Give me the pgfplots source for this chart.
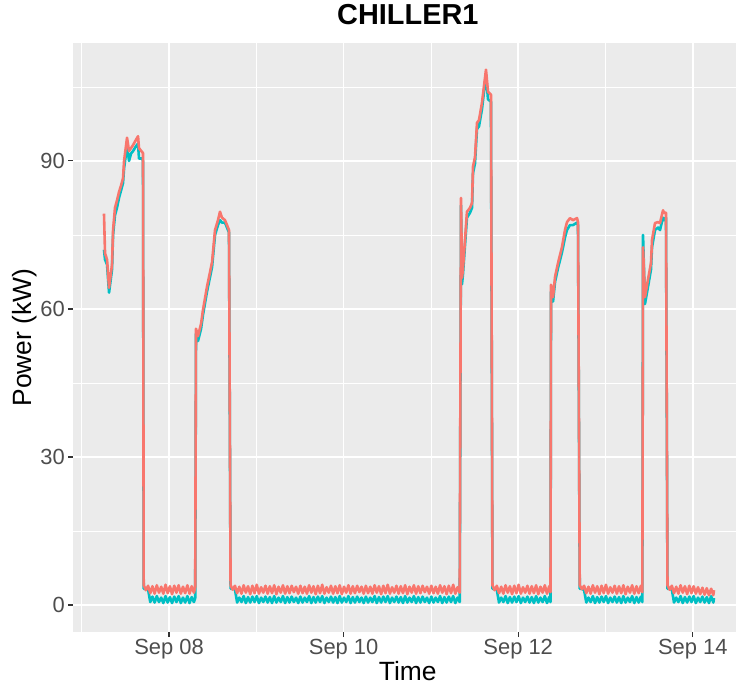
\documentclass[border=0pt]{standalone}
\usepackage{fontspec}
\setmainfont{Liberation Sans}
\usepackage{pgfplots}
\usepackage{pgfplotstable}
\pgfplotsset{compat=1.18}

\definecolor{ggred}{HTML}{F8766D}
\definecolor{ggteal}{HTML}{00BFC4}
\definecolor{panelgrey}{HTML}{EBEBEB}
\definecolor{labelgrey}{HTML}{4D4D4D}
\definecolor{tickdark}{HTML}{333333}

% day of September, power of the two chiller readings (kW)
\pgfplotstableread[row sep=\\]{
d red teal \\
7.255 79.3 72.0 \\ 7.267 71.3 70.0 \\ 7.290 70.0 69.0 \\ 7.313 64.3 63.3 \\ 7.347 69.0 68.0 \\
7.359 76.0 75.0 \\ 7.381 80.5 79.0 \\ 7.404 82.0 80.5 \\ 7.427 83.7 82.5 \\ 7.450 85.0 84.0 \\
7.473 86.5 85.5 \\ 7.485 90.0 88.5 \\ 7.519 94.7 93.0 \\ 7.542 92.0 90.0 \\ 7.565 92.6 91.5 \\
7.588 93.2 92.0 \\ 7.622 94.3 93.0 \\ 7.645 95.0 93.5 \\ 7.656 92.6 90.5 \\ 7.691 91.8 90.5 \\
7.702 91.6 90.0 \\
7.710 4.0 3.3 \\ 7.735 3.0 3.3 \\ 7.760 3.9 3.2 \\ 7.785 2.4 0.6 \\ 7.810 3.8 1.7 \\
7.835 2.3 0.5 \\ 7.860 4.0 1.8 \\ 7.885 2.5 0.6 \\ 7.910 3.7 1.5 \\ 7.935 2.3 0.4 \\
7.960 4.1 1.8 \\ 7.985 2.4 0.5 \\ 8.010 3.8 1.6 \\ 8.035 2.2 0.4 \\ 8.060 3.9 1.7 \\
8.085 2.5 0.6 \\ 8.110 4.0 1.8 \\ 8.135 2.3 0.4 \\ 8.160 3.7 1.5 \\ 8.185 2.4 0.5 \\
8.210 4.0 1.8 \\ 8.235 2.3 0.4 \\ 8.260 3.8 1.6 \\ 8.285 2.5 0.6 \\ 8.300 3.6 1.4 \\
8.309 56.0 55.0 \\ 8.332 54.5 53.5 \\ 8.367 57.0 56.0 \\ 8.389 59.8 58.8 \\ 8.435 64.5 63.5 \\
8.470 67.5 66.5 \\ 8.493 69.5 68.5 \\ 8.527 76.0 75.0 \\ 8.561 78.0 77.0 \\ 8.584 79.7 78.0 \\
8.607 78.5 77.5 \\ 8.641 78.0 77.5 \\ 8.664 77.0 76.5 \\ 8.687 76.0 75.5 \\
8.705 4.0 3.3 \\ 8.730 3.1 3.3 \\ 8.755 3.9 3.2 \\ 8.780 2.4 0.5 \\ 8.805 3.7 1.5 \\
8.830 2.3 0.6 \\ 8.855 4.0 1.8 \\ 8.880 2.5 0.4 \\ 8.905 3.8 1.6 \\ 8.930 2.2 0.5 \\
8.955 3.9 1.7 \\ 8.980 2.4 0.6 \\ 9.005 4.1 1.8 \\ 9.030 2.3 0.4 \\ 9.055 3.6 1.5 \\
9.080 2.5 0.6 \\ 9.105 3.9 1.7 \\ 9.130 2.3 0.5 \\ 9.155 3.8 1.6 \\ 9.180 2.4 0.4 \\
9.205 4.0 1.8 \\ 9.230 2.2 0.5 \\ 9.255 3.7 1.5 \\ 9.280 2.5 0.6 \\ 9.305 4.0 1.8 \\
9.330 2.3 0.4 \\ 9.355 3.8 1.6 \\ 9.380 2.4 0.5 \\ 9.405 3.9 1.7 \\ 9.430 2.6 0.6 \\
9.455 3.7 1.5 \\ 9.480 2.3 0.4 \\ 9.505 3.9 1.7 \\ 9.530 2.4 0.5 \\ 9.555 3.7 1.5 \\
9.580 2.3 0.6 \\ 9.605 4.0 1.8 \\ 9.630 2.5 0.4 \\ 9.655 3.8 1.6 \\ 9.680 2.2 0.5 \\
9.705 3.9 1.7 \\ 9.730 2.4 0.6 \\ 9.755 4.1 1.8 \\ 9.780 2.3 0.4 \\ 9.805 3.6 1.5 \\
9.830 2.5 0.6 \\ 9.855 3.9 1.7 \\ 9.880 2.3 0.5 \\ 9.905 3.8 1.6 \\ 9.930 2.4 0.4 \\
9.955 4.0 1.8 \\ 9.980 2.2 0.5 \\ 10.005 3.7 1.5 \\ 10.030 2.5 0.6 \\ 10.055 4.0 1.8 \\
10.080 2.3 0.4 \\ 10.105 3.8 1.6 \\ 10.130 2.4 0.5 \\ 10.155 3.9 1.7 \\ 10.180 2.6 0.6 \\
10.205 3.7 1.5 \\ 10.230 2.3 0.4 \\ 10.255 3.9 1.7 \\ 10.280 2.4 0.5 \\ 10.305 3.7 1.5 \\
10.330 2.3 0.6 \\ 10.355 4.0 1.8 \\ 10.380 2.5 0.4 \\ 10.405 3.8 1.6 \\ 10.430 2.2 0.5 \\
10.455 3.9 1.7 \\ 10.480 2.4 0.6 \\ 10.505 4.1 1.8 \\ 10.530 2.3 0.4 \\ 10.555 3.6 1.5 \\
10.580 2.5 0.6 \\ 10.605 3.9 1.7 \\ 10.630 2.3 0.5 \\ 10.655 3.8 1.6 \\ 10.680 2.4 0.4 \\
10.705 4.0 1.8 \\ 10.730 2.2 0.5 \\ 10.755 3.7 1.5 \\ 10.780 2.5 0.6 \\ 10.805 4.0 1.8 \\
10.830 2.3 0.4 \\ 10.855 3.8 1.6 \\ 10.880 2.4 0.5 \\ 10.905 3.9 1.7 \\ 10.930 2.6 0.6 \\
10.955 3.7 1.5 \\ 10.980 2.3 0.4 \\ 11.005 3.9 1.7 \\ 11.030 2.4 0.5 \\ 11.055 3.7 1.5 \\
11.080 2.3 0.6 \\ 11.105 4.0 1.8 \\ 11.130 2.5 0.4 \\ 11.155 3.8 1.6 \\ 11.180 2.2 0.5 \\
11.205 3.9 1.7 \\ 11.230 2.4 0.6 \\ 11.255 4.1 1.8 \\ 11.280 2.3 0.4 \\ 11.305 3.6 1.5 \\
11.330 2.5 0.6 \\
11.345 82.5 81.0 \\ 11.356 66.3 65.0 \\ 11.367 68.0 67.0 \\ 11.413 79.7 78.5 \\ 11.448 80.5 79.5 \\
11.471 81.5 80.5 \\ 11.482 88.8 87.5 \\ 11.505 90.8 89.5 \\ 11.528 97.7 96.5 \\ 11.551 98.3 97.0 \\
11.585 101.8 100.5 \\ 11.631 108.5 107.5 \\ 11.654 104.0 102.5 \\ 11.688 103.4 102.0 \\
11.705 4.0 3.3 \\ 11.730 3.0 3.3 \\ 11.755 3.9 3.1 \\ 11.780 2.4 0.5 \\ 11.805 3.7 1.5 \\
11.830 2.3 0.6 \\ 11.855 4.0 1.8 \\ 11.880 2.5 0.4 \\ 11.905 3.8 1.6 \\ 11.930 2.2 0.5 \\
11.955 3.9 1.7 \\ 11.980 2.4 0.6 \\ 12.005 4.1 1.8 \\ 12.030 2.3 0.4 \\ 12.055 3.6 1.5 \\
12.080 2.5 0.6 \\ 12.105 3.9 1.7 \\ 12.130 2.3 0.5 \\ 12.155 3.8 1.6 \\ 12.180 2.4 0.4 \\
12.205 4.0 1.8 \\ 12.230 2.2 0.5 \\ 12.255 3.7 1.5 \\ 12.280 2.5 0.6 \\ 12.305 4.0 1.8 \\
12.330 2.3 0.4 \\ 12.355 3.8 1.6 \\ 12.370 2.6 0.6 \\
12.376 64.9 63.5 \\ 12.399 62.4 61.5 \\ 12.422 66.5 65.5 \\ 12.456 69.3 68.3 \\ 12.502 72.6 71.5 \\
12.536 76.0 74.5 \\ 12.559 77.6 76.0 \\ 12.593 78.4 77.0 \\ 12.628 78.0 77.0 \\ 12.674 78.4 77.5 \\
12.685 77.6 77.0 \\
12.705 4.0 3.3 \\ 12.730 3.2 3.3 \\ 12.755 3.9 3.0 \\ 12.780 2.4 0.5 \\ 12.805 3.7 1.5 \\
12.830 2.3 0.6 \\ 12.855 4.0 1.8 \\ 12.880 2.5 0.4 \\ 12.905 3.8 1.6 \\ 12.930 2.2 0.5 \\
12.955 3.9 1.7 \\ 12.980 2.4 0.6 \\ 13.005 4.1 1.8 \\ 13.030 2.3 0.4 \\ 13.055 3.6 1.5 \\
13.080 2.5 0.6 \\ 13.105 3.9 1.7 \\ 13.130 2.3 0.5 \\ 13.155 3.8 1.6 \\ 13.180 2.4 0.4 \\
13.205 4.0 1.8 \\ 13.230 2.2 0.5 \\ 13.255 3.7 1.5 \\ 13.280 2.5 0.6 \\ 13.305 4.0 1.8 \\
13.330 2.3 0.4 \\ 13.355 3.8 1.6 \\ 13.380 2.4 0.5 \\ 13.405 3.9 1.7 \\ 13.422 2.6 0.6 \\
13.430 72.5 75.0 \\ 13.452 62.4 61.0 \\ 13.487 66.0 64.5 \\ 13.521 69.3 68.0 \\ 13.533 74.0 72.5 \\
13.567 77.4 76.0 \\ 13.601 77.6 76.5 \\ 13.624 77.4 76.0 \\ 13.659 80.0 78.5 \\ 13.670 79.5 78.0 \\
13.693 79.5 78.5 \\
13.710 4.0 3.3 \\ 13.735 3.1 3.3 \\ 13.760 3.9 3.1 \\ 13.785 2.4 0.5 \\ 13.810 3.7 1.5 \\
13.835 2.3 0.6 \\ 13.860 4.0 1.8 \\ 13.885 2.5 0.4 \\ 13.910 3.8 1.6 \\ 13.935 2.2 0.5 \\
13.960 3.9 1.7 \\ 13.985 2.4 0.6 \\ 14.010 3.8 1.8 \\ 14.035 2.3 0.4 \\ 14.060 3.6 1.5 \\
14.085 2.2 0.6 \\ 14.110 3.5 1.7 \\ 14.135 2.1 0.5 \\ 14.160 3.4 1.6 \\ 14.185 2.0 0.4 \\
14.210 3.3 1.8 \\ 14.235 2.0 0.5 \\ 14.243 3.0 1.4 \\
}\chiller

\begin{document}
\begin{tikzpicture}
\useasboundingbox (-73bp,-53bp) rectangle (663bp,632bp);
\begin{axis}[
  at={(0,0)}, anchor=south west,
  scale only axis, width=663bp, height=589bp,
  xmin=6.9, xmax=14.495, ymin=-5.47, ymax=113.9,
  axis background/.style={fill=panelgrey},
  axis line style={draw=none},
  xtick={8,10,12,14}, xticklabels={Sep 08,Sep 10,Sep 12,Sep 14},
  minor xtick={7,9,11,13},
  ytick={0,30,60,90}, yticklabels={0,30,60,90},
  minor ytick={15,45,75,105},
  grid=both,
  major grid style={white, line width=1.5bp},
  minor grid style={white, line width=0.75bp},
  tick pos=left, tick align=outside,
  major tick length=5bp, minor tick length=0pt,
  major tick style={tickdark, line width=1.1bp},
  ticklabel style={font=\fontsize{22}{26}\selectfont, text=labelgrey, inner sep=0pt},
  xticklabel style={anchor=north, yshift=-2bp},
  yticklabel style={anchor=east, xshift=-3bp},
  title={CHILLER1},
  title style={font=\fontsize{29}{34}\selectfont\bfseries, at={(0.505,1.02207)}, anchor=base},
  xlabel={Time},
  xlabel style={font=\fontsize{26.5}{30}\selectfont, at={(0.505,-0.0815)}, anchor=base},
  ylabel={Power (kW)},
  ylabel style={font=\fontsize{26.5}{30}\selectfont, at={(-0.06184,0.5)}, anchor=base},
]
\addplot[ggteal, line width=2.6bp, line join=round] table[x=d, y=teal]{\chiller};
\addplot[ggred, line width=2.6bp, line join=round] table[x=d, y=red]{\chiller};
\end{axis}
\end{tikzpicture}
\end{document}
